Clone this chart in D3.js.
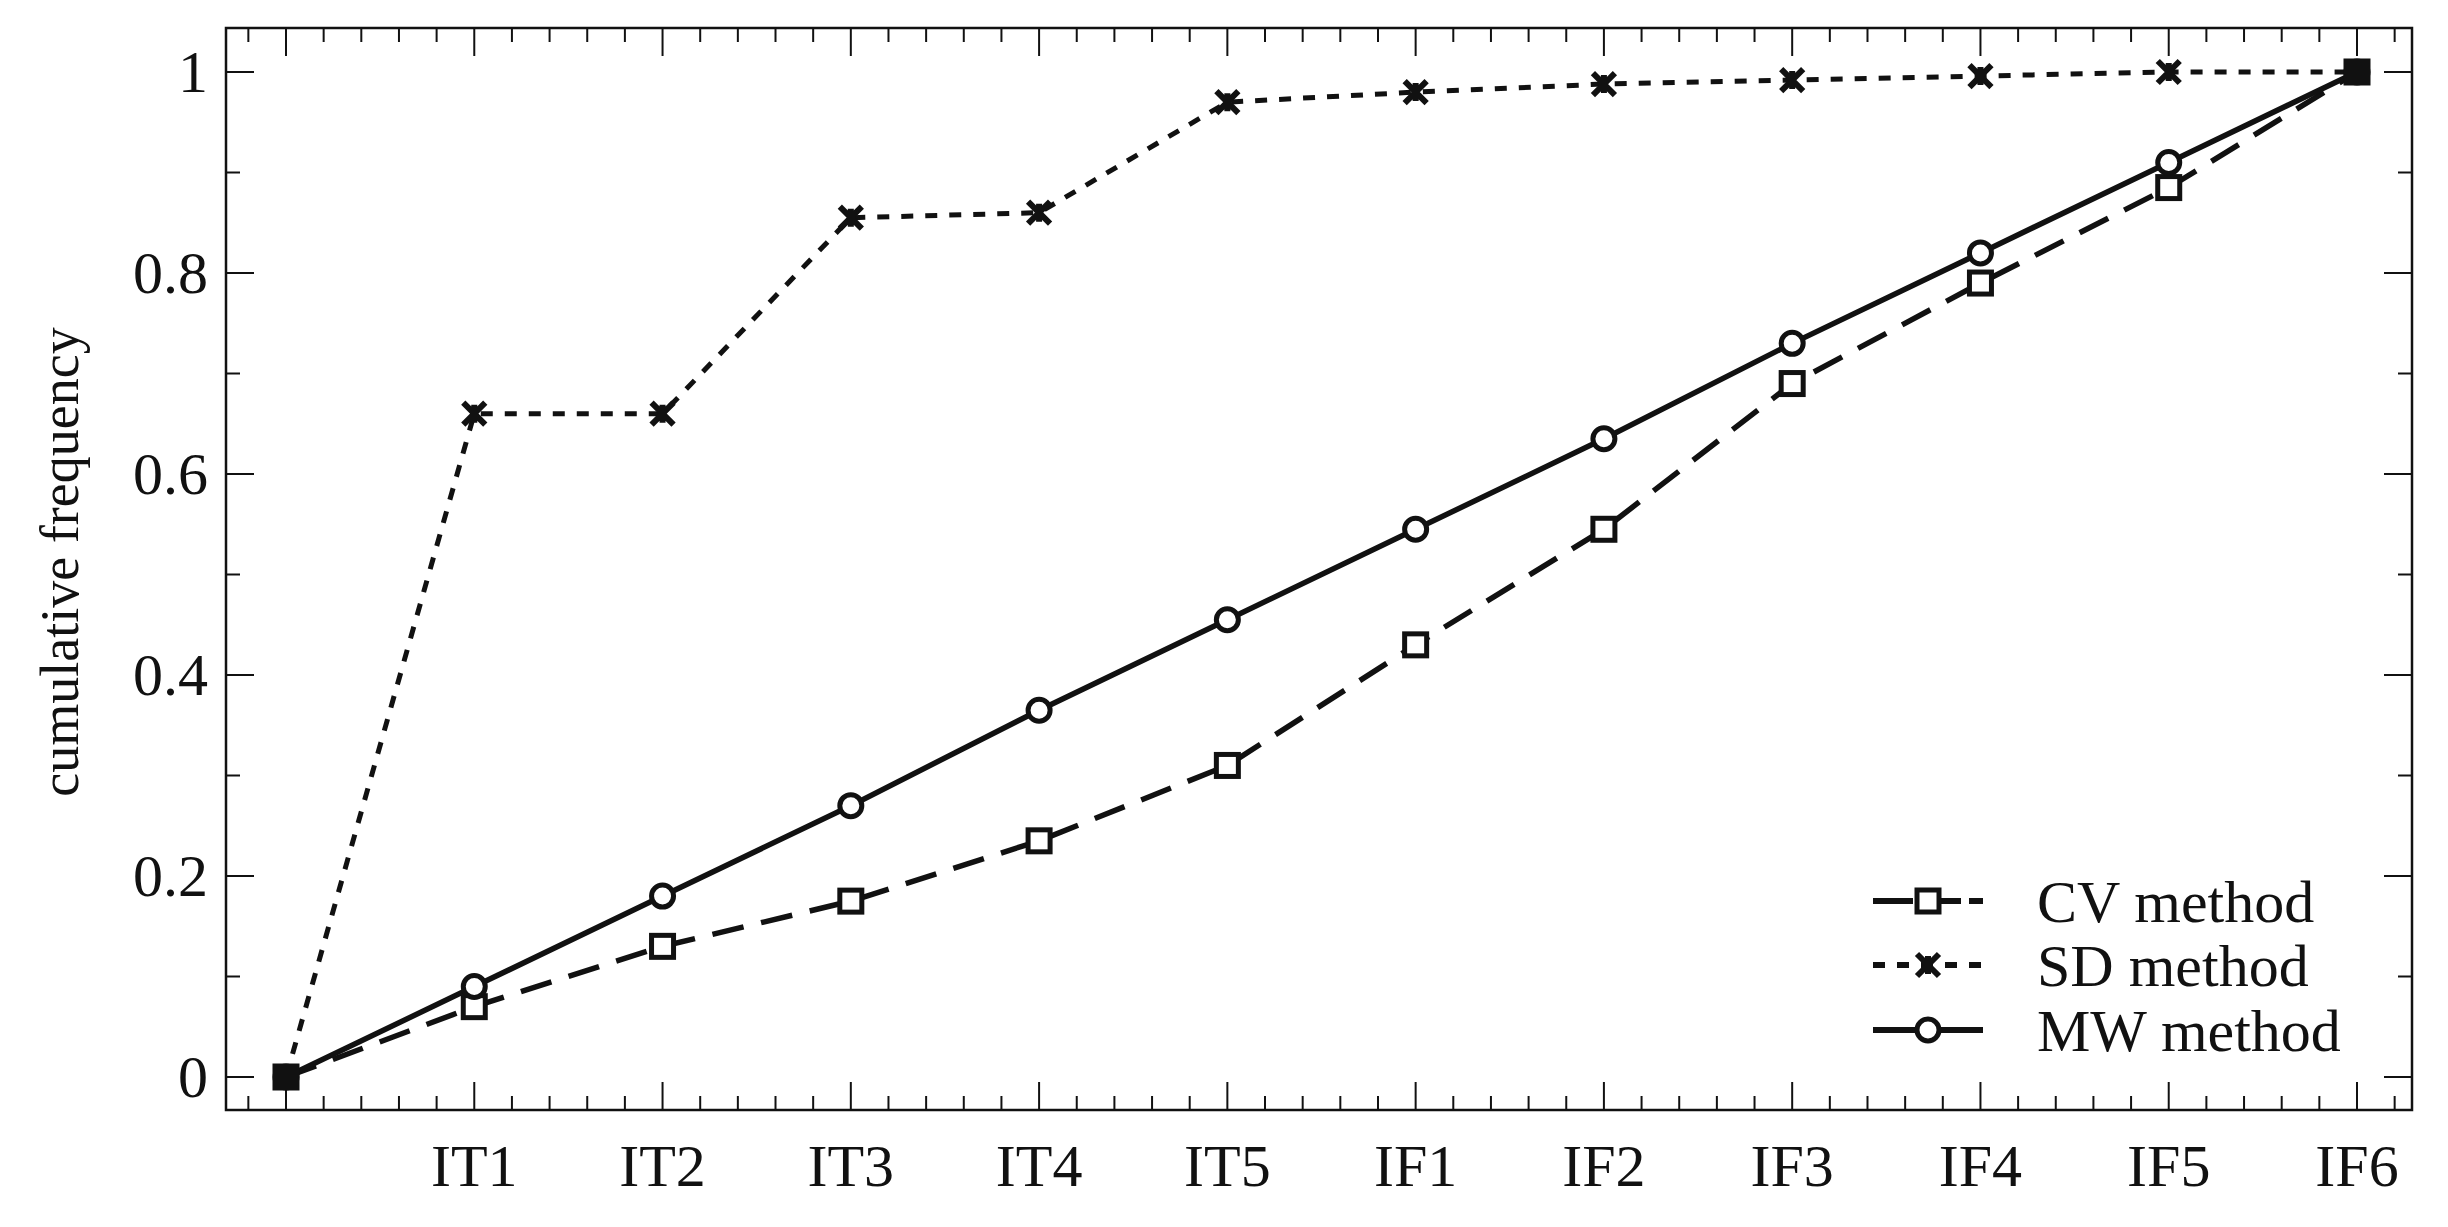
<!DOCTYPE html>
<html><head><meta charset="utf-8">
<script src="https://cdn.jsdelivr.net/npm/d3@7"></script>
<style>body{margin:0;background:#fff}svg{display:block}text{font-family:"Liberation Serif","Times New Roman",serif;fill:#111}</style>
</head><body><svg id="c" width="2448" height="1227"></svg>
<script>
const categories = ["", "IT1","IT2","IT3","IT4","IT5","IF1","IF2","IF3","IF4","IF5","IF6"];
const cvValues = [0,0.07,0.13,0.175,0.235,0.31,0.43,0.545,0.69,0.79,0.885,1.0];
const sdValues = [0,0.66,0.66,0.855,0.86,0.97,0.98,0.988,0.992,0.996,1.0,1.0];
const mwValues = [0,0.09,0.18,0.27,0.365,0.455,0.545,0.635,0.73,0.82,0.91,1.0];
const yTicks = [0,0.2,0.4,0.6,0.8,1];
const yTickLabels = ["0","0.2","0.4","0.6","0.8","1"];
const seriesNames = ["CV method","SD method","MW method"];

const svg = d3.select("#c");
const L=226,R=2412,T=28,B=1110;
const x = d3.scalePoint().domain(categories).range([286,2357]);
const y = d3.scaleLinear().domain([0,1]).range([1077,72]);
const step = x.step();
const ink="#111";

svg.append("rect").attr("x",L).attr("y",T).attr("width",R-L).attr("height",B-T).attr("fill","none").attr("stroke",ink).attr("stroke-width",2.5);

const minorX=[];
categories.forEach((c,i)=>{for(let k=-4;k<=4;k++){const v=x(c)+k*step/5; if(k!==0 && v>L+2 && v<R-2 && (k>0||i===0)) minorX.push(v);}});
const majorX=categories.map(c=>x(c));
[[B,-1],[T,1]].forEach(([yy,d])=>{
  svg.selectAll(null).data(majorX).enter().append("line").attr("x1",v=>v).attr("x2",v=>v).attr("y1",yy).attr("y2",yy+d*28).attr("stroke",ink).attr("stroke-width",2);
  svg.selectAll(null).data(minorX).enter().append("line").attr("x1",v=>v).attr("x2",v=>v).attr("y1",yy).attr("y2",yy+d*14).attr("stroke",ink).attr("stroke-width",2);
});
svg.selectAll(null).data(categories.filter(c=>c)).enter().append("text").attr("x",c=>x(c)).attr("y",1186).attr("text-anchor","middle").attr("font-size",60).text(c=>c);

const minorY=d3.range(0.1,1.01,0.2);
[[L,1],[R,-1]].forEach(([xx,d])=>{
  svg.selectAll(null).data(yTicks).enter().append("line").attr("x1",xx).attr("x2",xx+d*28).attr("y1",v=>y(v)).attr("y2",v=>y(v)).attr("stroke",ink).attr("stroke-width",2);
  svg.selectAll(null).data(minorY).enter().append("line").attr("x1",xx).attr("x2",xx+d*14).attr("y1",v=>y(v)).attr("y2",v=>y(v)).attr("stroke",ink).attr("stroke-width",2);
});
svg.selectAll(null).data(yTicks).enter().append("text").attr("x",208).attr("y",v=>y(v)+20).attr("text-anchor","end").attr("font-size",60).text((v,i)=>yTickLabels[i]);
svg.append("text").attr("transform","translate(78,562) rotate(-90)").attr("text-anchor","middle").attr("font-size",54).text("cumulative frequency");

const line=d3.line().x((d,i)=>x(categories[i])).y(d=>y(d));
const styles=[{v:cvValues,dash:"32,18",m:"sq"},{v:sdValues,dash:"12,12",m:"x"},{v:mwValues,dash:null,m:"c"}];
function marker(g,m,cx,cy){
  if(m==="sq") g.append("rect").attr("x",cx-11).attr("y",cy-11).attr("width",22).attr("height",22).attr("fill","#fff").attr("stroke",ink).attr("stroke-width",5);
  else if(m==="c") g.append("circle").attr("cx",cx).attr("cy",cy).attr("r",11).attr("fill","#fff").attr("stroke",ink).attr("stroke-width",5);
  else g.append("path").attr("d",`M${cx-11},${cy-11}L${cx+11},${cy+11}M${cx+11},${cy-11}L${cx-11},${cy+11}M${cx},${cy-9}L${cx},${cy+9}`).attr("stroke",ink).attr("stroke-width",6);
}
styles.forEach(s=>{
  svg.append("path").datum(s.v).attr("d",line).attr("fill","none").attr("stroke",ink).attr("stroke-width",s.dash==="12,12"?5:5.5).attr("stroke-dasharray",s.dash);
});
styles.forEach(s=>{const g=svg.append("g");s.v.forEach((v,i)=>marker(g,s.m,x(categories[i]),y(v)));});
[0,11].forEach(i=>svg.append("rect").attr("x",x(categories[i])-13).attr("y",y(cvValues[i])-13).attr("width",26).attr("height",26).attr("fill",ink));

const ly=[901,965,1030];
styles.forEach((s,i)=>{
  const g=svg.append("g");
  g.append("line").attr("x1",1873).attr("x2",1983).attr("y1",ly[i]).attr("y2",ly[i]).attr("stroke",ink).attr("stroke-width",6).attr("stroke-dasharray",s.m==="sq"?"40,8":(s.dash?"12,12":null));
  marker(g,s.m,1928,ly[i]);
  g.append("text").attr("x",2037).attr("y",ly[i]+21).attr("font-size",60).text(seriesNames[i]);
});
</script></body></html>
